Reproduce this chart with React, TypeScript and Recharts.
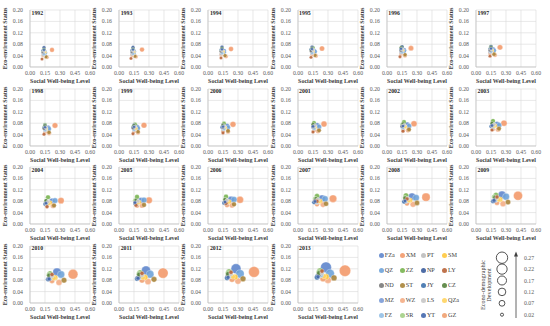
import React from 'react';
import { ScatterChart, Scatter, XAxis, YAxis, ZAxis, CartesianGrid, Cell } from 'recharts';

const FONT = '"Liberation Serif", "Times New Roman", serif';

const years = [1992, 1993, 1994, 1995, 1996, 1997, 1998, 1999, 2000, 2001, 2002, 2003, 2004, 2005, 2006, 2007, 2008, 2009, 2010, 2011, 2012, 2013];

const cities = ['FZa', 'XM', 'PT', 'SM', 'QZ', 'ZZ', 'NP', 'LY', 'ND', 'ST', 'JY', 'CZ', 'MZ', 'WZ', 'LS', 'QZa', 'FZ', 'SR', 'YT', 'GZ'];
const cityColors = [
  '#5f86cc', '#f39a6c', '#bdbdbd', '#ffc83d', '#6fa3d8', '#78b450', '#3b5d9c', '#b8643a', '#7a7a7a', '#a8843a',
  '#3f72ad', '#55823d', '#7b9bd6', '#f4ad85', '#c6c6c6', '#ffd460', '#94bfe4', '#a3cf85', '#4468ad', '#f0a070',
];

const xTicks = [0, 0.15, 0.3, 0.45, 0.6];
const yTicks = [0, 0.04, 0.08, 0.12, 0.16, 0.2];
const sizeLegendValues = [0.27, 0.22, 0.17, 0.12, 0.07, 0.02];

// one row per city (same order as cities), one value per year 1992..2013
const socialWellbeing: number[][] = [
  [0.15, 0.15, 0.16, 0.16, 0.17, 0.17, 0.18, 0.18, 0.19, 0.19, 0.20, 0.21, 0.22, 0.22, 0.23, 0.24, 0.25, 0.26, 0.27, 0.27, 0.28, 0.28],
  [0.22, 0.23, 0.23, 0.24, 0.24, 0.24, 0.25, 0.25, 0.25, 0.26, 0.27, 0.28, 0.31, 0.30, 0.32, 0.35, 0.39, 0.42, 0.43, 0.44, 0.46, 0.47],
  [0.13, 0.13, 0.13, 0.14, 0.14, 0.14, 0.15, 0.15, 0.15, 0.16, 0.16, 0.17, 0.17, 0.18, 0.18, 0.19, 0.19, 0.20, 0.21, 0.21, 0.22, 0.22],
  [0.14, 0.14, 0.15, 0.15, 0.15, 0.16, 0.16, 0.16, 0.17, 0.17, 0.18, 0.19, 0.20, 0.20, 0.21, 0.22, 0.23, 0.24, 0.25, 0.26, 0.27, 0.28],
  [0.15, 0.15, 0.16, 0.17, 0.17, 0.18, 0.19, 0.19, 0.20, 0.21, 0.22, 0.23, 0.25, 0.25, 0.26, 0.27, 0.29, 0.30, 0.31, 0.31, 0.32, 0.32],
  [0.14, 0.14, 0.14, 0.15, 0.15, 0.15, 0.15, 0.16, 0.16, 0.16, 0.17, 0.17, 0.18, 0.18, 0.18, 0.19, 0.19, 0.20, 0.20, 0.21, 0.21, 0.22],
  [0.14, 0.14, 0.14, 0.14, 0.15, 0.15, 0.15, 0.15, 0.15, 0.16, 0.16, 0.16, 0.16, 0.17, 0.17, 0.17, 0.18, 0.18, 0.19, 0.19, 0.20, 0.20],
  [0.12, 0.12, 0.13, 0.13, 0.13, 0.14, 0.14, 0.14, 0.15, 0.15, 0.16, 0.16, 0.17, 0.17, 0.18, 0.19, 0.20, 0.21, 0.22, 0.23, 0.23, 0.24],
  [0.13, 0.13, 0.13, 0.13, 0.14, 0.14, 0.14, 0.14, 0.15, 0.15, 0.15, 0.16, 0.16, 0.16, 0.17, 0.17, 0.18, 0.19, 0.19, 0.20, 0.20, 0.21],
  [0.16, 0.16, 0.17, 0.17, 0.18, 0.18, 0.19, 0.19, 0.20, 0.21, 0.22, 0.23, 0.24, 0.25, 0.26, 0.28, 0.30, 0.32, 0.34, 0.35, 0.35, 0.36],
  [0.13, 0.13, 0.13, 0.13, 0.14, 0.14, 0.14, 0.14, 0.14, 0.15, 0.15, 0.15, 0.15, 0.16, 0.16, 0.16, 0.17, 0.17, 0.18, 0.18, 0.19, 0.19],
  [0.14, 0.14, 0.14, 0.14, 0.14, 0.15, 0.15, 0.15, 0.15, 0.15, 0.16, 0.16, 0.16, 0.17, 0.17, 0.18, 0.18, 0.19, 0.19, 0.20, 0.20, 0.21],
  [0.13, 0.13, 0.14, 0.14, 0.14, 0.14, 0.15, 0.15, 0.15, 0.16, 0.16, 0.16, 0.17, 0.17, 0.18, 0.18, 0.19, 0.19, 0.20, 0.21, 0.21, 0.22],
  [0.17, 0.17, 0.18, 0.18, 0.18, 0.19, 0.19, 0.19, 0.20, 0.20, 0.21, 0.22, 0.23, 0.23, 0.24, 0.25, 0.26, 0.27, 0.29, 0.29, 0.30, 0.30],
  [0.14, 0.14, 0.14, 0.15, 0.15, 0.15, 0.16, 0.16, 0.16, 0.17, 0.17, 0.18, 0.18, 0.19, 0.19, 0.20, 0.21, 0.21, 0.22, 0.23, 0.23, 0.24],
  [0.15, 0.15, 0.15, 0.15, 0.16, 0.16, 0.16, 0.17, 0.17, 0.17, 0.18, 0.18, 0.19, 0.19, 0.20, 0.21, 0.22, 0.23, 0.24, 0.24, 0.25, 0.26],
  [0.14, 0.14, 0.14, 0.14, 0.15, 0.15, 0.15, 0.15, 0.16, 0.16, 0.16, 0.17, 0.17, 0.18, 0.18, 0.19, 0.20, 0.20, 0.21, 0.22, 0.22, 0.23],
  [0.13, 0.13, 0.13, 0.13, 0.14, 0.14, 0.14, 0.14, 0.15, 0.15, 0.15, 0.16, 0.16, 0.16, 0.17, 0.17, 0.18, 0.18, 0.19, 0.20, 0.20, 0.21],
  [0.14, 0.14, 0.14, 0.14, 0.14, 0.15, 0.15, 0.15, 0.15, 0.15, 0.16, 0.16, 0.16, 0.16, 0.17, 0.17, 0.18, 0.18, 0.19, 0.19, 0.20, 0.20],
  [0.13, 0.13, 0.13, 0.14, 0.14, 0.14, 0.15, 0.15, 0.15, 0.16, 0.16, 0.17, 0.17, 0.18, 0.19, 0.19, 0.20, 0.21, 0.22, 0.23, 0.24, 0.25],
];

const ecoEnvironment: number[][] = [
  [0.052, 0.054, 0.056, 0.057, 0.059, 0.062, 0.064, 0.066, 0.070, 0.072, 0.074, 0.076, 0.080, 0.082, 0.086, 0.090, 0.096, 0.102, 0.108, 0.114, 0.120, 0.125],
  [0.060, 0.061, 0.063, 0.065, 0.066, 0.069, 0.072, 0.073, 0.076, 0.077, 0.078, 0.080, 0.082, 0.083, 0.085, 0.089, 0.094, 0.099, 0.101, 0.105, 0.109, 0.113],
  [0.042, 0.044, 0.046, 0.048, 0.050, 0.052, 0.054, 0.056, 0.058, 0.060, 0.062, 0.064, 0.067, 0.070, 0.073, 0.076, 0.080, 0.084, 0.088, 0.091, 0.095, 0.098],
  [0.050, 0.052, 0.053, 0.055, 0.056, 0.058, 0.060, 0.062, 0.064, 0.066, 0.068, 0.071, 0.075, 0.076, 0.078, 0.080, 0.083, 0.086, 0.089, 0.090, 0.091, 0.092],
  [0.048, 0.050, 0.052, 0.054, 0.056, 0.058, 0.060, 0.062, 0.065, 0.067, 0.070, 0.073, 0.082, 0.084, 0.086, 0.088, 0.092, 0.096, 0.100, 0.101, 0.102, 0.103],
  [0.062, 0.064, 0.066, 0.068, 0.070, 0.072, 0.074, 0.076, 0.079, 0.081, 0.084, 0.088, 0.094, 0.095, 0.096, 0.098, 0.100, 0.101, 0.103, 0.106, 0.109, 0.112],
  [0.068, 0.069, 0.070, 0.070, 0.071, 0.072, 0.072, 0.073, 0.073, 0.074, 0.074, 0.075, 0.075, 0.076, 0.077, 0.078, 0.080, 0.082, 0.084, 0.088, 0.091, 0.095],
  [0.028, 0.030, 0.032, 0.034, 0.036, 0.038, 0.041, 0.043, 0.046, 0.049, 0.052, 0.056, 0.061, 0.066, 0.072, 0.080, 0.088, 0.095, 0.100, 0.104, 0.108, 0.112],
  [0.052, 0.053, 0.055, 0.056, 0.058, 0.059, 0.061, 0.063, 0.065, 0.067, 0.069, 0.071, 0.074, 0.076, 0.079, 0.082, 0.085, 0.088, 0.091, 0.094, 0.097, 0.100],
  [0.036, 0.038, 0.040, 0.041, 0.043, 0.045, 0.048, 0.050, 0.053, 0.055, 0.058, 0.061, 0.065, 0.067, 0.069, 0.071, 0.074, 0.077, 0.080, 0.083, 0.085, 0.088],
  [0.058, 0.059, 0.060, 0.061, 0.062, 0.063, 0.064, 0.065, 0.066, 0.067, 0.068, 0.069, 0.070, 0.072, 0.074, 0.076, 0.078, 0.080, 0.083, 0.085, 0.088, 0.090],
  [0.062, 0.063, 0.065, 0.066, 0.068, 0.069, 0.071, 0.072, 0.074, 0.076, 0.078, 0.080, 0.082, 0.084, 0.086, 0.089, 0.091, 0.094, 0.097, 0.100, 0.102, 0.105],
  [0.050, 0.051, 0.053, 0.054, 0.056, 0.057, 0.059, 0.061, 0.063, 0.065, 0.067, 0.069, 0.072, 0.074, 0.077, 0.080, 0.083, 0.086, 0.090, 0.093, 0.097, 0.100],
  [0.034, 0.036, 0.037, 0.039, 0.040, 0.042, 0.045, 0.047, 0.050, 0.052, 0.055, 0.058, 0.064, 0.065, 0.066, 0.068, 0.069, 0.071, 0.072, 0.075, 0.077, 0.080],
  [0.056, 0.057, 0.059, 0.060, 0.062, 0.063, 0.065, 0.067, 0.069, 0.071, 0.073, 0.075, 0.078, 0.080, 0.083, 0.086, 0.089, 0.092, 0.095, 0.098, 0.102, 0.105],
  [0.052, 0.053, 0.055, 0.056, 0.058, 0.059, 0.061, 0.062, 0.064, 0.066, 0.068, 0.070, 0.072, 0.074, 0.076, 0.079, 0.082, 0.085, 0.087, 0.089, 0.092, 0.094],
  [0.045, 0.047, 0.049, 0.050, 0.052, 0.054, 0.056, 0.058, 0.060, 0.062, 0.064, 0.066, 0.069, 0.072, 0.075, 0.078, 0.082, 0.085, 0.088, 0.091, 0.095, 0.098],
  [0.055, 0.057, 0.058, 0.060, 0.062, 0.064, 0.066, 0.068, 0.070, 0.072, 0.075, 0.077, 0.080, 0.083, 0.086, 0.089, 0.092, 0.095, 0.099, 0.102, 0.105, 0.108],
  [0.060, 0.061, 0.062, 0.063, 0.064, 0.065, 0.066, 0.067, 0.068, 0.069, 0.070, 0.072, 0.073, 0.075, 0.077, 0.079, 0.081, 0.083, 0.085, 0.087, 0.090, 0.092],
  [0.040, 0.041, 0.043, 0.044, 0.046, 0.047, 0.049, 0.051, 0.053, 0.055, 0.057, 0.059, 0.062, 0.064, 0.066, 0.069, 0.072, 0.075, 0.078, 0.080, 0.083, 0.085],
];

const econoDemographic: number[][] = [
  [0.040, 0.042, 0.044, 0.046, 0.048, 0.050, 0.053, 0.055, 0.058, 0.061, 0.065, 0.069, 0.074, 0.080, 0.088, 0.098, 0.110, 0.125, 0.140, 0.170, 0.205, 0.240],
  [0.045, 0.048, 0.051, 0.054, 0.057, 0.060, 0.063, 0.066, 0.069, 0.072, 0.075, 0.078, 0.082, 0.090, 0.102, 0.117, 0.140, 0.170, 0.200, 0.220, 0.245, 0.270],
  [0.025, 0.026, 0.027, 0.028, 0.029, 0.030, 0.031, 0.032, 0.033, 0.034, 0.035, 0.036, 0.038, 0.040, 0.042, 0.044, 0.046, 0.048, 0.051, 0.054, 0.057, 0.060],
  [0.028, 0.029, 0.030, 0.031, 0.032, 0.033, 0.034, 0.035, 0.036, 0.037, 0.039, 0.040, 0.042, 0.044, 0.047, 0.050, 0.053, 0.057, 0.061, 0.066, 0.071, 0.075],
  [0.035, 0.037, 0.039, 0.041, 0.043, 0.045, 0.047, 0.049, 0.051, 0.054, 0.057, 0.060, 0.064, 0.068, 0.074, 0.081, 0.090, 0.100, 0.110, 0.125, 0.140, 0.160],
  [0.030, 0.031, 0.032, 0.033, 0.034, 0.035, 0.036, 0.037, 0.038, 0.040, 0.041, 0.043, 0.045, 0.047, 0.049, 0.052, 0.055, 0.058, 0.062, 0.066, 0.071, 0.076],
  [0.026, 0.026, 0.027, 0.027, 0.028, 0.028, 0.029, 0.029, 0.030, 0.030, 0.031, 0.032, 0.033, 0.034, 0.035, 0.037, 0.039, 0.041, 0.044, 0.047, 0.051, 0.056],
  [0.022, 0.022, 0.023, 0.023, 0.024, 0.024, 0.025, 0.025, 0.026, 0.026, 0.027, 0.027, 0.028, 0.029, 0.030, 0.031, 0.032, 0.033, 0.034, 0.035, 0.036, 0.037],
  [0.022, 0.022, 0.023, 0.023, 0.024, 0.024, 0.025, 0.025, 0.026, 0.026, 0.027, 0.028, 0.029, 0.030, 0.031, 0.032, 0.034, 0.036, 0.038, 0.040, 0.042, 0.044],
  [0.030, 0.031, 0.032, 0.033, 0.034, 0.035, 0.036, 0.037, 0.039, 0.040, 0.042, 0.043, 0.045, 0.047, 0.049, 0.052, 0.055, 0.058, 0.062, 0.065, 0.069, 0.072],
  [0.024, 0.025, 0.025, 0.026, 0.026, 0.027, 0.027, 0.028, 0.029, 0.029, 0.030, 0.031, 0.032, 0.033, 0.035, 0.037, 0.039, 0.042, 0.045, 0.048, 0.051, 0.054],
  [0.022, 0.022, 0.023, 0.023, 0.024, 0.024, 0.025, 0.025, 0.026, 0.027, 0.027, 0.028, 0.029, 0.030, 0.031, 0.033, 0.034, 0.036, 0.038, 0.040, 0.042, 0.044],
  [0.026, 0.026, 0.027, 0.027, 0.028, 0.028, 0.029, 0.030, 0.030, 0.031, 0.032, 0.033, 0.034, 0.035, 0.037, 0.039, 0.041, 0.043, 0.046, 0.049, 0.052, 0.054],
  [0.034, 0.035, 0.037, 0.038, 0.040, 0.041, 0.043, 0.044, 0.046, 0.048, 0.050, 0.052, 0.056, 0.058, 0.061, 0.064, 0.067, 0.071, 0.074, 0.078, 0.082, 0.086],
  [0.022, 0.022, 0.023, 0.023, 0.024, 0.024, 0.025, 0.025, 0.026, 0.027, 0.027, 0.028, 0.029, 0.030, 0.031, 0.033, 0.034, 0.036, 0.038, 0.040, 0.042, 0.044],
  [0.024, 0.024, 0.025, 0.025, 0.026, 0.026, 0.027, 0.027, 0.028, 0.029, 0.029, 0.030, 0.031, 0.032, 0.034, 0.036, 0.038, 0.040, 0.043, 0.046, 0.050, 0.054],
  [0.024, 0.024, 0.025, 0.025, 0.026, 0.026, 0.027, 0.028, 0.028, 0.029, 0.030, 0.031, 0.032, 0.033, 0.035, 0.037, 0.039, 0.042, 0.045, 0.048, 0.051, 0.054],
  [0.026, 0.027, 0.027, 0.028, 0.028, 0.029, 0.030, 0.031, 0.032, 0.033, 0.034, 0.035, 0.037, 0.038, 0.040, 0.042, 0.045, 0.048, 0.052, 0.056, 0.060, 0.064],
  [0.018, 0.018, 0.019, 0.019, 0.019, 0.020, 0.020, 0.020, 0.021, 0.021, 0.022, 0.022, 0.023, 0.023, 0.024, 0.025, 0.026, 0.027, 0.028, 0.029, 0.031, 0.032],
  [0.028, 0.029, 0.029, 0.030, 0.031, 0.032, 0.033, 0.034, 0.035, 0.036, 0.038, 0.039, 0.041, 0.043, 0.045, 0.048, 0.051, 0.054, 0.058, 0.063, 0.068, 0.073],
];

// layout of the small multiples
const PLOT_LEFT0 = 30;
const COL_PITCH = 89.2;
const PLOT_TOP0 = 10;
const ROW_PITCH = 78.6;
const PLOT_W = 60;
const PLOT_H = 57;
const Y_AXIS_W = 30;
const X_AXIS_H = 22;
const M_TOP = 4;
const M_RIGHT = 8;

const Z_DOMAIN = [0, 0.27];
const Z_RANGE = [0, 102];

const tickStyle = { fontSize: 5.8, fill: '#595959', fontFamily: FONT };
const titleStyle = { fontSize: 6, fontWeight: 700, fill: '#404040', fontFamily: FONT };

const fmt = (v: number) => v.toFixed(2);

function YearPanel({ yearIndex }: { yearIndex: number }) {
  const col = yearIndex % 6;
  const row = Math.floor(yearIndex / 6);
  const plotLeft = PLOT_LEFT0 + col * COL_PITCH;
  const plotTop = PLOT_TOP0 + row * ROW_PITCH;

  const points = cities
    .map((city, i) => ({
      city,
      color: cityColors[i],
      x: socialWellbeing[i][yearIndex],
      y: ecoEnvironment[i][yearIndex],
      z: econoDemographic[i][yearIndex],
    }))
    .sort((a, b) => b.z - a.z);

  return (
    <>
      <div style={{ position: 'absolute', left: plotLeft - Y_AXIS_W, top: plotTop - M_TOP }}>
        <ScatterChart
          width={Y_AXIS_W + PLOT_W + M_RIGHT}
          height={M_TOP + PLOT_H + X_AXIS_H}
          margin={{ top: M_TOP, right: M_RIGHT, bottom: 0, left: 0 }}
        >
          <CartesianGrid stroke="#d9d9d9" strokeWidth={0.6} />
          <XAxis
            type="number"
            dataKey="x"
            domain={[0, 0.6]}
            ticks={xTicks}
            interval={0}
            height={X_AXIS_H}
            tickLine={false}
            tickSize={3}
            tickMargin={1}
            axisLine={{ stroke: '#bfbfbf', strokeWidth: 0.7 }}
            tick={tickStyle}
            tickFormatter={fmt}
            label={{ value: 'Social Well-being Level', position: 'insideBottom', offset: 6, ...titleStyle }}
          />
          <YAxis
            type="number"
            dataKey="y"
            domain={[0, 0.2]}
            ticks={yTicks}
            interval={0}
            width={Y_AXIS_W}
            tickLine={false}
            tickSize={3}
            tickMargin={4}
            axisLine={{ stroke: '#bfbfbf', strokeWidth: 0.7 }}
            tick={tickStyle}
            tickFormatter={fmt}
            label={{
              value: 'Eco-environment Status',
              angle: -90,
              position: 'insideLeft',
              offset: 5,
              style: { textAnchor: 'middle' },
              ...titleStyle,
            }}
          />
          <ZAxis type="number" dataKey="z" domain={Z_DOMAIN} range={Z_RANGE} />
          <Scatter data={points} isAnimationActive={false} fillOpacity={0.9} stroke="#ffffff" strokeWidth={0.3}>
            {points.map((p) => (
              <Cell key={p.city} fill={p.color} />
            ))}
          </Scatter>
        </ScatterChart>
      </div>
      <div
        style={{
          position: 'absolute',
          left: plotLeft + 1.5,
          top: plotTop + 0.5,
          fontSize: 5.8,
          lineHeight: 1,
          fontWeight: 700,
          color: '#262626',
        }}
      >
        {years[yearIndex]}
      </div>
    </>
  );
}

function CityLegend() {
  return (
    <>
      {cities.map((city, i) => {
        const col = i % 4;
        const row = Math.floor(i / 4);
        return (
          <div
            key={city}
            style={{
              position: 'absolute',
              left: 378.5 + col * 21.1,
              top: 252 + row * 15.1,
              display: 'flex',
              alignItems: 'center',
              fontSize: 6.2,
              lineHeight: 1,
              color: '#404040',
              whiteSpace: 'nowrap',
            }}
          >
            <span
              style={{
                display: 'inline-block',
                width: 5,
                height: 5,
                borderRadius: '50%',
                background: cityColors[i],
                opacity: 0.9,
                marginRight: 1.2,
              }}
            />
            <span>{city}</span>
          </div>
        );
      })}
    </>
  );
}

function SizeLegend() {
  const data = sizeLegendValues.map((v, i) => ({ x: 0.5, y: sizeLegendValues.length - 1 - i, z: v }));
  return (
    <>
      <div
        style={{
          position: 'absolute',
          left: 485.5 - 40,
          top: 285 - 6,
          width: 80,
          height: 12,
          transform: 'rotate(-90deg)',
          textAlign: 'center',
          fontSize: 6.2,
          lineHeight: '5.6px',
          color: '#404040',
        }}
      >
        Econo-demographic
        <br />
        Development
      </div>
      <div style={{ position: 'absolute', left: 488, top: 250.3 }}>
        <ScatterChart width={62} height={72.4} margin={{ top: 2, right: 0, bottom: 2, left: 0 }}>
          <XAxis type="number" dataKey="x" domain={[0, 1]} hide height={0} />
          <YAxis
            type="number"
            dataKey="y"
            orientation="right"
            domain={[-0.5, 5.5]}
            ticks={[0, 1, 2, 3, 4, 5]}
            interval={0}
            width={34}
            axisLine={false}
            tickLine={false}
            tickSize={0}
            tickMargin={8}
            tick={{ fontSize: 5.8, fill: '#595959', fontFamily: FONT }}
            tickFormatter={(v: number) => fmt(sizeLegendValues[sizeLegendValues.length - 1 - v])}
          />
          <ZAxis type="number" dataKey="z" domain={Z_DOMAIN} range={Z_RANGE} />
          <Scatter data={data} isAnimationActive={false} fill="#ffffff" stroke="#404040" strokeWidth={0.9} />
        </ScatterChart>
      </div>
      <svg style={{ position: 'absolute', left: 512, top: 250 }} width={8} height={72}>
        <line x1={4} y1={68} x2={4} y2={5} stroke="#404040" strokeWidth={0.8} />
        <polygon points="4,1.5 2,6.5 6,6.5" fill="#404040" />
      </svg>
    </>
  );
}

export default function App() {
  return (
    <div
      style={{
        position: 'absolute',
        left: 0,
        top: 0,
        width: 550,
        height: 326,
        background: '#ffffff',
        fontFamily: FONT,
        overflow: 'hidden',
      }}
    >
      {years.map((y, i) => (
        <YearPanel key={y} yearIndex={i} />
      ))}
      <CityLegend />
      <SizeLegend />
    </div>
  );
}
